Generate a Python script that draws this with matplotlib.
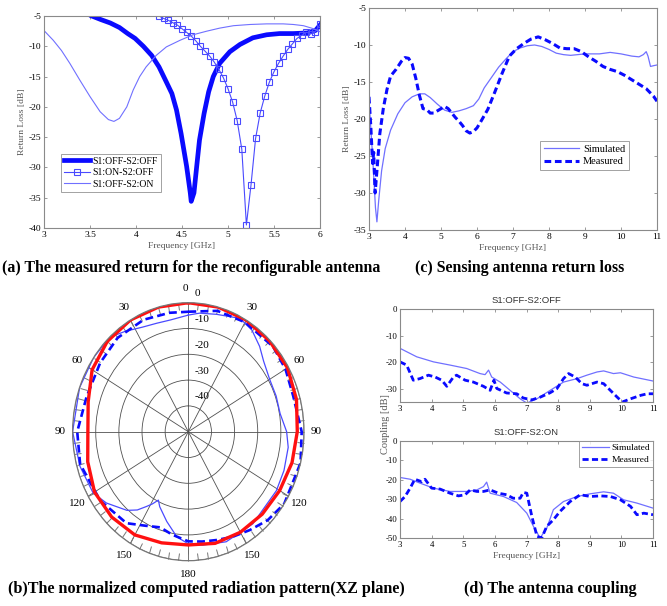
import numpy as np
import matplotlib; matplotlib.use("Agg")
import matplotlib.pyplot as plt
import matplotlib.transforms as mtransforms

plt.rcParams['font.family'] = ['Liberation Serif', 'DejaVu Serif']
plt.rcParams['axes.unicode_minus'] = False

# ---- (a) return loss of the reconfigurable antenna ----
a_off_off_f = [3.52, 3.62, 3.72, 3.82, 3.91, 3.99, 4.08, 4.17, 4.25, 4.33, 4.39, 4.44, 4.49, 4.55,
               4.59, 4.60, 4.63, 4.66, 4.69, 4.74, 4.79, 4.84, 4.91, 5.02, 5.13, 5.27, 5.42, 5.56,
               5.71, 5.86, 5.95, 6.0]
a_off_off_db = [-5.0, -5.6, -6.15, -6.9, -7.9, -8.7, -10.0, -11.5, -13.4, -15.9, -17.8, -20.5, -24.4,
                -29.8, -34.2, -35.6, -34.2, -29.8, -25.5, -21.1, -17.5, -15.0, -12.8, -10.9, -9.7,
                -8.6, -8.1, -7.9, -7.9, -7.8, -7.4, -6.5]
a_on_off_f = [4.25, 4.30, 4.35, 4.40, 4.45, 4.50, 4.55, 4.60, 4.65, 4.70, 4.75, 4.80, 4.85, 4.90,
              4.95, 5.00, 5.05, 5.10, 5.15, 5.20, 5.25, 5.30, 5.35, 5.40, 5.45, 5.50, 5.55, 5.60,
              5.65, 5.70, 5.75, 5.80, 5.85, 5.90, 5.95, 6.00]
a_on_off_db = [-5.0, -5.4, -5.7, -6.1, -6.5, -7.1, -7.7, -8.3, -9.1, -10.0, -10.8, -11.6, -12.6, -13.8,
               -15.2, -17.0, -19.2, -22.3, -27.0, -39.5, -32.9, -25.2, -21.0, -18.2, -15.9, -14.2,
               -12.8, -11.6, -10.5, -9.6, -8.7, -8.2, -7.7, -7.9, -7.6, -6.4]
a_off_on_f = [3.0, 3.1, 3.19, 3.28, 3.39, 3.5, 3.61, 3.7, 3.76, 3.82, 3.9, 3.97, 4.04, 4.11, 4.22,
              4.33, 4.48, 4.62, 4.77, 4.91, 5.06, 5.24, 5.42, 5.6, 5.71, 5.82, 5.93, 6.0]
a_off_on_db = [-7.4, -9.0, -10.7, -12.8, -15.6, -18.3, -20.8, -22.1, -22.4, -21.9, -20.0, -17.2, -15.0,
               -13.4, -11.5, -10.1, -9.0, -8.1, -7.5, -7.0, -6.6, -6.4, -6.3, -6.3, -6.4, -6.6, -7.1, -7.6]

# ---- (c) sensing antenna return loss ----
c_sim_f = [3.0, 3.1, 3.18, 3.22, 3.27, 3.35, 3.45, 3.6, 3.8, 4.0, 4.2, 4.4, 4.55, 4.7, 4.9, 5.1, 5.3,
           5.5, 5.7, 5.9, 6.05, 6.2, 6.4, 6.6, 6.8, 7.0, 7.2, 7.4, 7.6, 7.8, 8.0, 8.2, 8.4, 8.6, 8.8,
           9.0, 9.4, 9.7, 10.0, 10.3, 10.5, 10.62, 10.7, 10.75, 10.82, 10.9, 11.0]
c_sim_db = [-17.5, -25.0, -32.0, -33.9, -31.0, -27.0, -24.0, -21.5, -19.3, -17.8, -17.0, -16.6, -16.6,
            -17.1, -18.0, -18.8, -19.1, -18.9, -18.6, -18.2, -17.3, -15.8, -14.4, -13.0, -11.9, -10.9,
            -10.4, -10.1, -10.0, -10.2, -10.6, -11.1, -11.3, -11.4, -11.3, -11.2, -11.2, -11.0, -11.2,
            -11.5, -11.6, -11.3, -10.9, -11.5, -12.9, -12.8, -12.7]
c_meas_f = [3.0, 3.05, 3.1, 3.13, 3.17, 3.22, 3.3, 3.4, 3.5, 3.6, 3.75, 3.9, 4.0, 4.1, 4.2, 4.3, 4.4,
            4.5, 4.6, 4.7, 4.8, 4.9, 5.0, 5.1, 5.2, 5.3, 5.4, 5.5, 5.6, 5.7, 5.8, 5.9, 6.0, 6.1, 6.3,
            6.5, 6.7, 6.9, 7.1, 7.3, 7.5, 7.7, 7.9, 8.1, 8.3, 8.5, 8.7, 8.9, 9.1, 9.3, 9.5, 9.7, 9.9,
            10.1, 10.3, 10.5, 10.7, 10.9, 11.0]
c_meas_db = [-17.0, -21.0, -26.0, -24.5, -30.0, -27.0, -22.0, -18.5, -16.0, -14.2, -13.3, -12.2, -11.7,
             -11.8, -12.6, -14.5, -16.8, -18.6, -18.7, -19.2, -19.2, -18.9, -18.6, -18.3, -18.6, -19.2,
             -19.8, -20.3, -20.9, -21.6, -21.9, -21.7, -21.2, -20.4, -18.7, -16.3, -13.8, -11.5, -10.5,
             -9.8, -9.2, -8.9, -9.3, -9.8, -10.4, -10.5, -10.5, -10.9, -11.6, -12.2, -12.9, -13.3,
             -13.6, -14.1, -14.7, -15.3, -15.9, -16.9, -17.6]

# ---- (b) normalized radiation pattern, XZ plane (angle deg, level dB) ----
b_red_ang = [0, 15, 30, 45, 60, 75, 90, 105, 120, 135, 150, 165, 180, 195, 210, 225, 240, 255, 270,
             285, 300, 315, 330, 345, 360]
b_red_db = [0.0, 0.0, 0.0, -0.3, -0.5, -1.6, -2.9, -3.6, -4.4, -4.8, -5.0, -5.2, -6.1, -5.4, -3.8,
            -3.2, -3.2, -5.0, -6.6, -5.2, -2.0, -0.5, 0.0, 0.0, 0.0]
b_dash_ang = [0, 15, 30, 48, 60, 73, 90, 104, 124, 135, 145, 155, 164, 172, 180, 190, 198, 207, 217,
              235, 255, 270, 287, 305, 320, 336, 350, 360]
b_dash_db = [-3.5, -1.5, -1.0, -0.7, -1.5, -2.6, -1.0, 0.0, 0.0, -1.5, -3.5, -5.0, -6.3, -7.0, -7.5,
             -9.5, -11.0, -9.1, -5.6, -3.5, -1.6, -2.0, -4.0, -3.5, -2.5, -2.5, -3.2, -3.5]
b_thin_ang = [0, 6, 15, 27, 35, 43, 50, 60, 70, 80, 90, 98, 110, 121, 142, 159, 172, 180, 187, 195,
              203, 206, 209, 212, 216, 221, 232, 240, 254, 270, 290, 305, 317, 325, 334, 342, 350, 360]
b_thin_db = [-4.8, -3.8, -2.9, -0.7, -2.0, -4.8, -7.5, -9.4, -9.6, -9.7, -7.5, -6.4, -6.0, -5.6, -4.7,
             -4.3, -5.6, -6.5, -9.0, -14.0, -18.4, -20.5, -18.0, -15.8, -12.5, -9.6, -5.1, -2.5, -1.3,
             0.0, 0.0, 0.0, 0.0, -2.5, -4.9, -5.8, -6.0, -4.8]
b_rings = [-40, -30, -20, -10, 0]
b_ang_labels = ['0', '30', '60', '90', '120', '150', '180', '150', '120', '90', '60', '30']

# ---- (d) antenna coupling ----
d1_sim_f = [3.0, 3.53, 4.06, 4.58, 5.11, 5.53, 5.69, 5.8, 5.9, 6.17, 6.48, 6.8, 7.01, 7.33, 7.75, 8.17,
            8.6, 8.91, 9.23, 9.44, 9.75, 9.97, 10.39, 11.0]
d1_sim_db = [-14.8, -18.0, -19.9, -21.1, -22.4, -24.3, -24.7, -23.0, -25.6, -27.5, -30.6, -33.8, -35.4,
             -33.8, -30.6, -27.5, -26.2, -24.9, -23.7, -23.3, -24.3, -24.0, -25.6, -27.1]
d1_meas_f = [3.0, 3.21, 3.42, 3.63, 3.9, 4.11, 4.32, 4.48, 4.69, 4.79, 5.06, 5.32, 5.64, 5.85, 5.97,
             6.06, 6.37, 6.69, 6.9, 7.17, 7.43, 7.75, 7.96, 8.17, 8.33, 8.54, 8.75, 8.91, 9.23, 9.44,
             9.65, 9.87, 10.03, 10.29, 10.61, 10.82, 11.0]
d1_meas_db = [-19.9, -21.1, -26.8, -26.2, -24.9, -25.6, -26.8, -29.1, -25.6, -24.9, -26.8, -27.5, -29.1,
              -30.6, -26.8, -29.9, -31.6, -31.9, -33.5, -34.2, -33.2, -31.5, -30.0, -26.2, -24.3, -25.6,
              -28.1, -28.7, -27.5, -28.1, -30.6, -33.2, -35.0, -33.8, -32.5, -31.9, -31.9]
d2_sim_f = [3.0, 3.32, 3.63, 4.06, 4.58, 5.11, 5.43, 5.64, 5.74, 5.85, 6.27, 6.69, 7.01, 7.22, 7.43,
            7.64, 7.85, 8.17, 8.6, 9.02, 9.44, 9.75, 10.07, 10.49, 11.0]
d2_sim_db = [-18.8, -19.7, -21.7, -24.3, -26.0, -26.0, -25.2, -23.5, -21.2, -26.9, -28.6, -31.7, -37.2,
             -44.0, -50.0, -44.9, -35.4, -31.2, -28.6, -27.2, -26.2, -26.9, -30.3, -32.0, -34.6]
d2_meas_f = [3.0, 3.16, 3.32, 3.47, 3.69, 3.79, 4.0, 4.27, 4.58, 4.85, 5.06, 5.22, 5.43, 5.64, 5.85,
             6.11, 6.37, 6.58, 6.8, 6.9, 7.01, 7.17, 7.33, 7.48, 7.64, 7.85, 8.06, 8.38, 8.7, 9.02,
             9.34, 9.65, 9.97, 10.29, 10.49, 10.71, 11.0]
d2_meas_db = [-31.2, -28.6, -24.3, -19.7, -21.0, -19.7, -24.3, -24.8, -26.9, -28.3, -27.7, -25.2, -26.0,
              -26.0, -25.2, -26.9, -27.7, -29.5, -29.5, -26.5, -26.9, -38.9, -49.1, -50.0, -44.0, -40.6,
              -36.3, -31.2, -27.7, -28.6, -28.3, -28.6, -30.3, -33.7, -38.0, -37.2, -38.0]

BLUE = "#0a0aff"; LBLUE = "#7070ff"; MBLUE = "#4a4aff"; GRAY = "#8a8a8a"; LAB = "#555555"
W, H = 667, 606
def rect(l, t, r, b):
    return [l / W, 1 - b / H, (r - l) / W, (b - t) / H]

def matlab_style(ax, fs=6.8):
    for s in ax.spines.values():
        s.set_color(GRAY); s.set_linewidth(0.8)
    ax.tick_params(direction='in', length=2.5, width=0.6, color=GRAY, labelsize=fs, pad=2,
                   top=True, right=True)

fig = plt.figure(figsize=(W / 100, H / 100), dpi=100)

# (a)
ax = fig.add_axes(rect(44, 16, 320, 228))
ax.plot(a_off_off_f, a_off_off_db, color=BLUE, lw=3.4, label="S1:OFF-S2:OFF")
ax.plot(a_on_off_f, a_on_off_db, color=MBLUE, lw=0.8, marker='s', ms=4.5, mfc='none', mec=MBLUE,
        mew=0.8, label="S1:ON-S2:OFF")
ax.plot(a_off_on_f, a_off_on_db, color=LBLUE, lw=0.8, label="S1:OFF-S2:ON")
ax.set_xlim(3, 6); ax.set_ylim(-40, -5)
ax.set_xticks([3, 3.5, 4, 4.5, 5, 5.5, 6]); ax.set_xticklabels(['3', '3.5', '4', '4.5', '5', '5.5', '6'])
ax.set_yticks(range(-40, -4, 5))
matlab_style(ax)
ax.set_xlabel("Frequency [GHz]", fontsize=6.8, color=LAB, labelpad=2)
ax.set_ylabel("Return Loss [dB]", fontsize=6.8, color=LAB, labelpad=2)
lg = ax.legend(loc='lower left', bbox_to_anchor=(0.063, 0.172), fontsize=7, frameon=True, fancybox=False,
               handlelength=2.6, borderpad=0.3, labelspacing=0.25, handletextpad=0.3, borderaxespad=0)
lg.get_frame().set_edgecolor(GRAY); lg.get_frame().set_linewidth(0.7)
fig.text(0.003, 1 - 268 / H, "(a) The measured return for the reconfigurable antenna", fontsize=11.4,
         fontweight='bold', va='center', ha='left')

# (c)
ax = fig.add_axes(rect(369, 8, 657, 230))
ax.plot(c_sim_f, c_sim_db, color=LBLUE, lw=0.9, label="Simulated")
ax.plot(c_meas_f, c_meas_db, color=BLUE, lw=2.2, ls=(0, (2.2, 1.2)), label="Measured")
ax.set_xlim(3, 11); ax.set_ylim(-35, -5)
ax.set_xticks(range(3, 12)); ax.set_yticks(range(-35, -4, 5))
matlab_style(ax)
ax.set_xlabel("Frequency [GHz]", fontsize=6.8, color=LAB, labelpad=2)
ax.set_ylabel("Return Loss [dB]", fontsize=6.8, color=LAB, labelpad=2)
lg = ax.legend(loc='lower left', bbox_to_anchor=(0.594, 0.27), fontsize=7.5, frameon=True, fancybox=False,
               handlelength=3.4, borderpad=0.35, labelspacing=0.3, handletextpad=0.35, borderaxespad=0)
lg.get_frame().set_edgecolor(GRAY); lg.get_frame().set_linewidth(0.7)
fig.text(415 / W, 1 - 268 / H, "(c) Sensing antenna return loss", fontsize=11.4, fontweight='bold',
         va='center', ha='left')

# (b) polar pattern, elliptical like the scanned figure
pa = fig.add_axes(rect(72.6, 302.7, 304.0, 560.7), projection='polar')
pa.set_aspect('auto')
pa.set_theta_zero_location('N'); pa.set_theta_direction(-1)
rr = lambda db: np.asarray(db) + 50
pa.plot(np.deg2rad(b_thin_ang), rr(b_thin_db), color=MBLUE, lw=0.9)
pa.plot(np.deg2rad(b_dash_ang), rr(b_dash_db), color=BLUE, lw=1.9, ls=(0, (3, 1.6)))
pa.plot(np.deg2rad(b_red_ang), rr(b_red_db), color="#ff1010", lw=2.4)
pa.set_ylim(0, 50)
pa.set_yticks([rr(v) for v in b_rings]); pa.set_yticklabels([])
pa.set_xticks(np.deg2rad(np.arange(0, 360, 30))); pa.set_xticklabels([])
pa.set_xticks(np.deg2rad(np.arange(0, 360, 5)), minor=True)
pa.tick_params(axis='x', which='both', bottom=False, top=True, direction='in', length=5, width=0.7,
               color="#777777")
pa.grid(True, color="#505050", lw=0.6)
pa.spines['polar'].set_color("#777777"); pa.spines['polar'].set_linewidth(0.9)
off = mtransforms.offset_copy(pa.transData, fig=fig, x=6.5, y=9, units='dots')
for v in b_rings:
    pa.text(0, rr(v), str(v), transform=off, fontsize=8, ha='left', va='center', clip_on=False)
for k, lab in enumerate(b_ang_labels):
    ang = k * 30 if k else -1.2
    pa.text(np.deg2rad(ang), 55.4, lab, fontsize=8, ha='center', va='center', clip_on=False)
fig.text(8 / W, 1 - 589 / H, "(b)The normalized computed radiation pattern(XZ plane)", fontsize=11.6,
         fontweight='bold', va='center', ha='left')

# (d) coupling, two stacked panels
sans = ['Liberation Sans', 'DejaVu Sans']
d1 = fig.add_axes(rect(400, 309, 653, 402))
d1.plot(d1_sim_f, d1_sim_db, color=LBLUE, lw=0.9)
d1.plot(d1_meas_f, d1_meas_db, color=BLUE, lw=2.0, ls=(0, (2.2, 1.2)))
d1.set_xlim(3, 11); d1.set_ylim(-35, 0)
d1.set_xticks(range(3, 12)); d1.set_yticks([0, -10, -20, -30])
matlab_style(d1, 6.3)
d1.set_title("S1:OFF-S2:OFF", fontsize=6.8, family=sans, pad=4, color="#333333")

d2 = fig.add_axes(rect(400, 441, 653, 538))
d2.plot(d2_sim_f, d2_sim_db, color=LBLUE, lw=0.9, label="Simulated")
d2.plot(d2_meas_f, d2_meas_db, color=BLUE, lw=2.0, ls=(0, (2.2, 1.2)), label="Measured")
d2.set_xlim(3, 11); d2.set_ylim(-50, 0)
d2.set_xticks(range(3, 12)); d2.set_yticks(range(-50, 1, 10))
matlab_style(d2, 6.3)
d2.set_title("S1:OFF-S2:ON", fontsize=6.8, family=sans, pad=4, color="#333333")
d2.set_xlabel("Frequency [GHz]", fontsize=6.8, color=LAB, labelpad=2)
lg = d2.legend(loc='upper right', fontsize=6.8, frameon=True, fancybox=False, handlelength=2.8,
               borderpad=0.3, labelspacing=0.3, handletextpad=0.3, borderaxespad=0)
lg.get_frame().set_edgecolor(GRAY); lg.get_frame().set_linewidth(0.7)
fig.text(385 / W, 1 - 424 / H, "Coupling [dB]", fontsize=7.5, color=LAB, rotation=90, va='center',
         ha='center')
fig.text(464 / W, 1 - 589 / H, "(d) The antenna coupling", fontsize=11.6, fontweight='bold',
         va='center', ha='left')

fig.savefig("out.png", dpi=100)
